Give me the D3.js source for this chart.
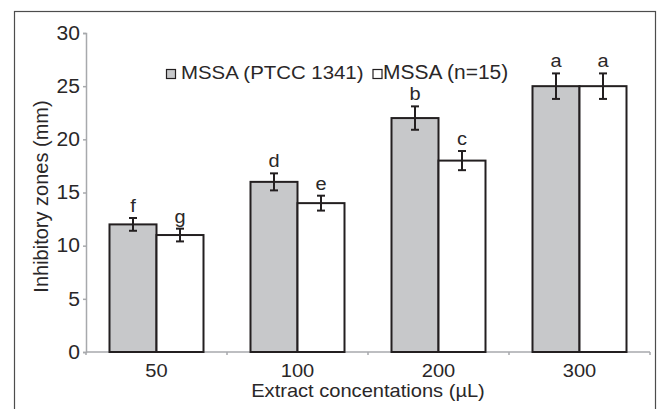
<!DOCTYPE html>
<html><head><meta charset="utf-8">
<script src="https://cdn.jsdelivr.net/npm/d3@7"></script>
<style>body{margin:0;background:#fff}svg{display:block}text{font-family:"Liberation Sans",Arial,sans-serif;fill:#2a2728}</style>
</head><body>
<svg id="c" width="660" height="409"></svg>
<script>
const categories = ["50", "100", "200", "300"];
const seriesNames = ["MSSA (PTCC 1341)", "MSSA (n=15)"];
const ptccValues = [12, 16, 22, 25];
const ptccErrors = [0.6, 0.8, 1.1, 1.2];
const ptccLetters = ["f", "d", "b", "a"];
const clinValues = [11, 14, 18, 25];
const clinErrors = [0.6, 0.7, 0.9, 1.2];
const clinLetters = ["g", "e", "c", "a"];
const yTicks = [0, 5, 10, 15, 20, 25, 30];
const xTitle = "Extract concentations (µL)";
const yTitle = "Inhibitory zones (mm)";

const svg = d3.select("#c");
const mLeft = 86, mRight = 650, mTop = 33, mBottom = 352;
const fills = ["#c7c8ca", "#ffffff"];
const SX = 1.08; // horizontal stretch of the reference text

function stretchedText(parent, x, y, size, anchor, str) {
  return parent.append("text")
    .attr("transform", `translate(${x},${y}) scale(${SX},1)`)
    .attr("text-anchor", anchor).style("font-size", size + "px").text(str);
}

// outer frame
svg.append("rect").attr("x", 14.5).attr("y", 11.5).attr("width", 641).attr("height", 420)
  .attr("fill", "none").attr("stroke", "#4d4d4d").attr("stroke-width", 1.2);

const x0 = d3.scaleBand().domain(categories).range([mLeft, mRight]).paddingInner(1/3).paddingOuter(1/6);
const x1 = d3.scaleBand().domain([0, 1]).range([0, x0.bandwidth()]);
const y = d3.scaleLinear().domain([0, 30]).range([mBottom, mTop]);

// y axis
const ya = svg.append("g").attr("transform", `translate(${mLeft},0)`)
  .call(d3.axisLeft(y).tickValues(yTicks).tickSize(3).tickPadding(4));
ya.select(".domain").attr("stroke", "#a7a9ac").attr("stroke-width", 1.5);
ya.selectAll(".tick line").attr("stroke", "#a7a9ac").attr("stroke-width", 1.5);
ya.selectAll(".tick text").style("font-size", "19.5px").attr("fill", "#2a2728")
  .attr("x", 0).attr("transform", `translate(-6,0) scale(${SX},1)`);

// x axis (ticks at category boundaries)
const boundaries = [mLeft].concat(categories.map((c, i) => mLeft + (i + 1) * x0.step()));
const xa = svg.append("g").attr("transform", `translate(0,${mBottom})`);
xa.append("line").attr("x1", mLeft).attr("x2", mRight).attr("stroke", "#a7a9ac").attr("stroke-width", 1.5);
xa.selectAll("line.tk").data(boundaries).join("line").attr("class", "tk")
  .attr("x1", d => d).attr("x2", d => d).attr("y1", 0).attr("y2", 3)
  .attr("stroke", "#a7a9ac").attr("stroke-width", 1.5);
categories.forEach(c => stretchedText(xa, x0(c) + x0.bandwidth() / 2, 25, 18.6, "middle", c));

const series = [
  {vals: ptccValues, errs: ptccErrors, letters: ptccLetters},
  {vals: clinValues, errs: clinErrors, letters: clinLetters}
];

series.forEach((s, si) => {
  const g = svg.append("g");
  const data = categories.map((c, i) => ({c, v: s.vals[i], e: s.errs[i], l: s.letters[i]}));
  g.selectAll("rect").data(data).join("rect")
    .attr("x", d => x0(d.c) + x1(si)).attr("width", x1.bandwidth())
    .attr("y", d => y(d.v)).attr("height", d => y(0) - y(d.v))
    .attr("fill", fills[si]).attr("stroke", "#231f20").attr("stroke-width", 2);
  const cx = d => x0(d.c) + x1(si) + x1.bandwidth() / 2;
  g.selectAll("line.eb").data(data).join("line").attr("class", "eb")
    .attr("x1", cx).attr("x2", cx).attr("y1", d => y(d.v + d.e)).attr("y2", d => y(d.v - d.e))
    .attr("stroke", "#231f20").attr("stroke-width", 2);
  ["t", "b"].forEach(sg => {
    g.selectAll("line.cap" + sg).data(data).join("line")
      .attr("class", "cap" + sg)
      .attr("x1", d => cx(d) - 4).attr("x2", d => cx(d) + 4)
      .attr("y1", d => y(sg === "t" ? d.v + d.e : d.v - d.e))
      .attr("y2", d => y(sg === "t" ? d.v + d.e : d.v - d.e))
      .attr("stroke", "#231f20").attr("stroke-width", 2);
  });
  data.forEach(d => stretchedText(g, cx(d), y(d.v + d.e) - 6, 18.5, "middle", d.l));
});

// legend
const leg = svg.append("g");
const legItems = [{x: 166.5, name: seriesNames[0], size: 18.9}, {x: 373, name: seriesNames[1], size: 19.4}];
legItems.forEach((it, i) => {
  leg.append("rect").attr("x", it.x).attr("y", 69.5).attr("width", 9).attr("height", 9)
    .attr("fill", fills[i]).attr("stroke", "#231f20").attr("stroke-width", 1.2);
  stretchedText(leg, it.x + (i ? 10 : 14.5), 79, it.size, "start", it.name);
});

// titles
stretchedText(svg, (mLeft + mRight) / 2, 396.5, 18.6, "middle", xTitle);
svg.append("text").attr("transform", `translate(47.5,196.5) rotate(-90)`)
  .attr("text-anchor", "middle").style("font-size", "20px").text(yTitle);
</script>
</body></html>
